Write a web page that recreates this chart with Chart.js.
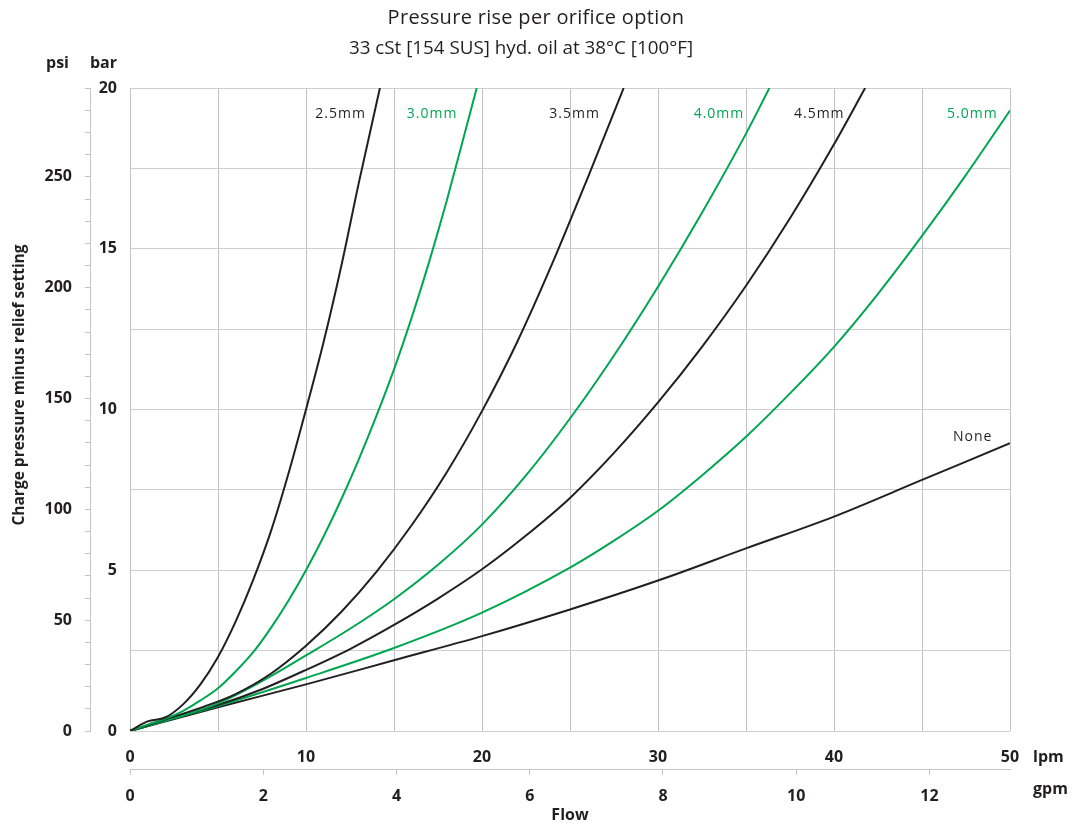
<!DOCTYPE html>
<html>
<head>
<meta charset="utf-8">
<title>Pressure rise per orifice option</title>
<script src="https://cdn.jsdelivr.net/npm/chart.js@4"></script>
<style>
  html, body { margin: 0; padding: 0; background: #fff; }
</style>
</head>
<body>
<canvas id="chart" width="1075" height="825"></canvas>
<script>
// --- Data (flow in lpm, pressure in bar) ---
const flow2p5 = [0, 1, 2, 3, 4, 5, 6, 7, 8, 9, 10, 11, 12, 13, 14.2];
const bar2p5 = [0, 0.3, 0.42, 0.82, 1.45, 2.3, 3.4, 4.7, 6.2, 8.0, 10.0, 12.1, 14.45, 17.05, 20];

const flow3p0 = [0, 1, 2, 3, 4, 5, 6, 7, 8, 9, 10, 11, 12, 13, 14, 15, 16, 17, 18, 19, 19.7];
const bar3p0 = [0, 0.2, 0.38, 0.62, 0.95, 1.33, 1.85, 2.45, 3.2, 4.05, 5.0, 6.05, 7.2, 8.45, 9.8, 11.25, 12.85, 14.6, 16.5, 18.55, 20];

const flow3p5 = [0, 2, 4, 6, 8, 10, 12, 14, 16, 18, 20, 22, 24, 26, 28.05];
const bar3p5 = [0, 0.36, 0.72, 1.15, 1.78, 2.65, 3.7, 4.95, 6.4, 8.05, 9.95, 12.1, 14.55, 17.2, 20];

const flow4p0 = [0, 2.5, 5, 7.5, 10, 12.5, 15, 17.5, 20, 22.5, 25, 27.5, 30, 32.5, 35, 36.33];
const bar4p0 = [0, 0.4, 0.86, 1.55, 2.35, 3.18, 4.1, 5.17, 6.42, 7.95, 9.72, 11.68, 13.82, 16.12, 18.58, 20];

const flow4p5 = [0, 2.5, 5, 7.5, 10, 12.5, 15, 17.5, 20, 22.5, 25, 27.5, 30, 32.5, 35, 37.5, 40, 41.77];
const bar4p5 = [0, 0.42, 0.81, 1.3, 1.9, 2.55, 3.3, 4.12, 5.03, 6.08, 7.25, 8.65, 10.22, 11.95, 13.85, 15.95, 18.25, 20];

const flow5p0 = [0, 2.5, 5, 10, 15, 20, 25, 27.5, 30, 32.5, 35, 37.5, 40, 42.5, 45, 47.5, 50];
const bar5p0 = [0, 0.4, 0.78, 1.65, 2.58, 3.68, 5.08, 5.92, 6.85, 7.95, 9.15, 10.5, 11.95, 13.6, 15.4, 17.3, 19.3];

const flowNone = [0, 5, 10, 15, 20, 25, 30, 35, 40, 45, 50];
const barNone = [0, 0.74, 1.45, 2.2, 2.95, 3.78, 4.68, 5.68, 6.67, 7.81, 8.95];

// --- Series labels and where they sit (lpm of right edge, bar of centre) ---
const seriesNames = ['2.5mm', '3.0mm', '3.5mm', '4.0mm', '4.5mm', '5.0mm', 'None'];
const labelFlow = [13.4, 18.6, 26.7, 34.9, 40.6, 49.3, 49.0];
const labelBar = [19.2, 19.2, 19.2, 19.2, 19.2, 19.2, 9.15];

// --- Secondary psi axis ticks (labels only on multiples of 50) ---
const psiTicks = [0, 10, 20, 30, 40, 50, 60, 70, 80, 90, 100, 110, 120, 130, 140, 150,
  160, 170, 180, 190, 200, 210, 220, 230, 240, 250, 260, 270, 280, 290];

const titleText = 'Pressure rise per orifice option';
const subtitleText = '33 cSt [154 SUS] hyd. oil at 38°C [100°F]';

// unit conversions for the secondary axes
const PSI_PER_BAR = 14.5038;
const LPM_PER_GPM = 3.78541;

const BLACK = '#231f20';
const GREEN = '#00a651';
const GRID_V = '#c2c2c2';
const GRID_H = '#cfcfcf';
const AXIS = '#c4c4c4';
const FONT = '"Open Sans", "Noto Sans", sans-serif';

const lineColors = [BLACK, GREEN, BLACK, GREEN, BLACK, GREEN, BLACK];
const flows = [flow2p5, flow3p0, flow3p5, flow4p0, flow4p5, flow5p0, flowNone];
const bars = [bar2p5, bar3p0, bar3p5, bar4p0, bar4p5, bar5p0, barNone];

const datasets = seriesNames.map((name, i) => ({
  label: name,
  data: flows[i].map((f, j) => ({ x: f, y: bars[i][j] })),
  borderColor: lineColors[i],
  borderWidth: 2,
  pointRadius: 0,
  fill: false,
  cubicInterpolationMode: 'monotone',
}));

const tickFont = { family: FONT, size: 16, weight: 'bold' };

// --- Extra text: title, units, y title, curve labels ---
const annotations = {
  id: 'annotations',
  afterDraw(chart) {
    const { ctx, chartArea, scales } = chart;
    const x = scales.x;
    const y = scales.y;
    ctx.save();
    ctx.textBaseline = 'middle';
    ctx.fillStyle = BLACK;

    // title, two lines
    ctx.textAlign = 'center';
    ctx.font = '20px ' + FONT;
    ctx.letterSpacing = '0.3px';
    ctx.fillText(titleText, 536, 18);
    ctx.letterSpacing = '0px';
    ctx.font = '18.8px ' + FONT;
    ctx.fillText(subtitleText, 521, 49);

    // curve labels
    ctx.font = '14px ' + FONT;
    ctx.letterSpacing = '1px';
    ctx.textAlign = 'right';
    seriesNames.forEach((name, i) => {
      ctx.fillStyle = lineColors[i];
      ctx.fillText(name, x.getPixelForValue(labelFlow[i]), y.getPixelForValue(labelBar[i]));
    });
    ctx.letterSpacing = '0px';

    // unit captions
    ctx.fillStyle = BLACK;
    ctx.font = 'bold 16px ' + FONT;
    ctx.fillText('psi', 69, chartArea.top - 25);
    ctx.fillText('bar', chartArea.left - 13, chartArea.top - 25);
    ctx.textAlign = 'left';
    ctx.fillText('lpm', chartArea.right + 23, chartArea.bottom + 26);
    ctx.fillText('gpm', chartArea.right + 23, chartArea.bottom + 58);

    // y axis title
    ctx.font = 'bold 15.5px ' + FONT;
    ctx.textAlign = 'center';
    ctx.translate(20, 385);
    ctx.rotate(-Math.PI / 2);
    ctx.fillText('Charge pressure minus relief setting', 0, 0);
    ctx.restore();
  },
};

new Chart(document.getElementById('chart'), {
  type: 'line',
  data: { datasets },
  plugins: [annotations],
  options: {
    responsive: false,
    animation: false,
    layout: { padding: { top: 88, right: 65, bottom: 0, left: 0 } },
    plugins: {
      legend: { display: false },
      tooltip: { enabled: false },
      title: { display: false },
    },
    scales: {
      x: {
        type: 'linear',
        position: 'bottom',
        weight: 0,
        min: 0,
        max: 50,
        ticks: {
          stepSize: 5,
          padding: 17,
          color: BLACK,
          font: tickFont,
          maxRotation: 0,
          autoSkip: false,
          callback: (v) => (v % 10 === 0 ? v : ''),
        },
        grid: { color: GRID_V, drawTicks: false },
        border: { display: false },
        afterFit: (s) => { s.height = 38; },
      },
      xGpm: {
        type: 'linear',
        position: 'bottom',
        weight: 1,
        min: 0,
        max: 50 / LPM_PER_GPM,
        ticks: {
          stepSize: 2,
          includeBounds: false,
          padding: 12,
          color: BLACK,
          font: tickFont,
          maxRotation: 0,
          autoSkip: false,
        },
        grid: { drawOnChartArea: false, drawTicks: true, tickLength: 6, color: AXIS },
        border: { display: true, color: AXIS },
        title: {
          display: true,
          text: 'Flow',
          color: BLACK,
          font: { family: FONT, size: 16, weight: 'bold' },
          padding: { top: 0, bottom: 0 },
        },
        afterFit: (s) => { s.height = 56; },
      },
      y: {
        type: 'linear',
        position: 'left',
        weight: 0,
        min: 0,
        max: 20,
        ticks: {
          stepSize: 2.5,
          padding: 13,
          color: BLACK,
          font: tickFont,
          callback: (v) => (v % 5 === 0 ? v : ''),
        },
        grid: { color: GRID_H, drawTicks: false },
        border: { display: true, color: GRID_V },
        afterFit: (s) => { s.width = 40; },
      },
      yPsi: {
        type: 'linear',
        position: 'left',
        weight: 1,
        min: 0,
        max: 20 * PSI_PER_BAR,
        afterBuildTicks: (s) => { s.ticks = psiTicks.map((v) => ({ value: v })); },
        ticks: {
          padding: 13,
          color: BLACK,
          font: tickFont,
          autoSkip: false,
          callback: (v) => (v % 50 === 0 ? v : ''),
        },
        grid: { drawOnChartArea: false, drawTicks: true, tickLength: 5, color: AXIS },
        border: { display: true, color: AXIS },
        afterFit: (s) => { s.width = 90; },
      },
    },
  },
});
</script>
</body>
</html>
